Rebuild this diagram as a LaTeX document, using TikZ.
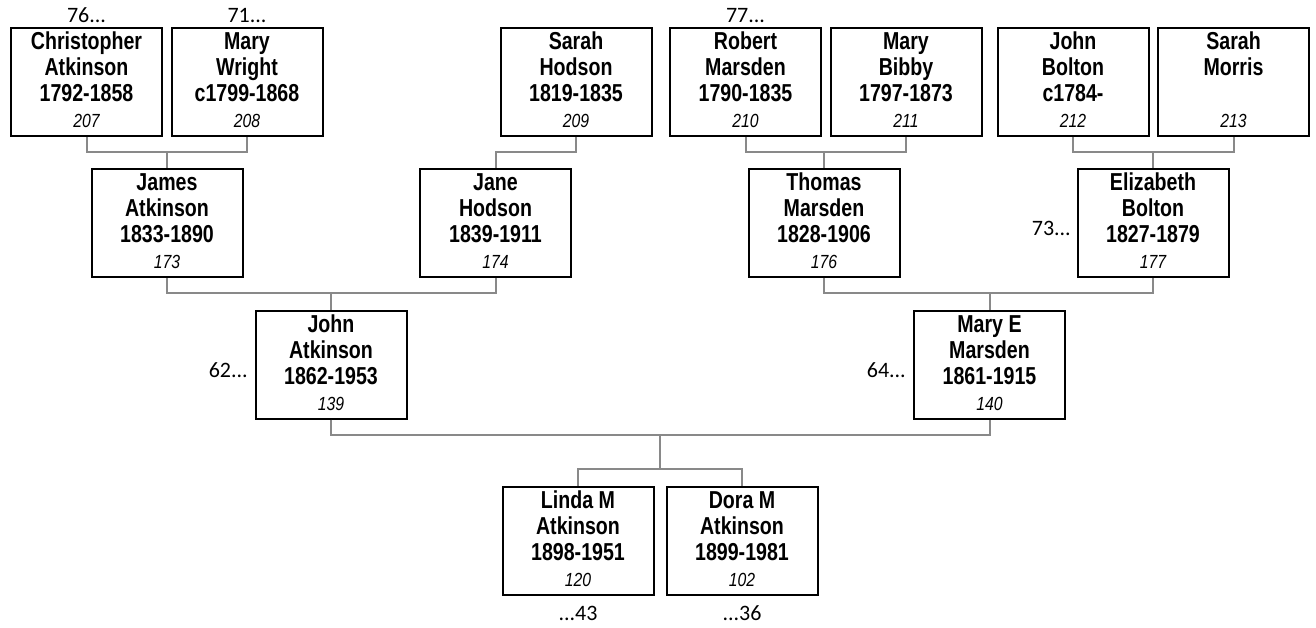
\documentclass[tikz,border=0pt]{standalone}
\usepackage{fontspec}
\newfontfamily\boxfont[FakeStretch=0.8]{Liberation Sans}
\newfontfamily\numfont[FakeStretch=0.83]{Liberation Sans}
\newfontfamily\labfont{Carlito}
\definecolor{connc}{RGB}{137,137,137}
\newcommand\pstrut{\rule[-7pt]{0pt}{26pt}}
\newcommand\nstrut{\rule[-6pt]{0pt}{24pt}}
\newcommand\pbox[4]{\pstrut\textbf{#1}\\\pstrut\textbf{#2}\\\pstrut\textbf{#3}\\\nstrut{\numfont\itshape\fontsize{19}{26}\selectfont #4}}
\tikzset{
  person/.style={draw=black, line width=2pt, minimum width=151pt, minimum height=108pt, inner sep=0pt, align=center, font=\boxfont\fontsize{24.5}{26}\selectfont},
  conn/.style={draw=connc, line width=2pt},
  lab/.style={inner sep=0pt, font=\labfont\fontsize{22}{26}\selectfont}
}
\begin{document}
\begin{tikzpicture}[x=1pt,y=-1pt]
\useasboundingbox (0,0) rectangle (1316,628);
% row 1
\node[person] (chris)  at (86.5,82)  {\pbox{Christopher}{Atkinson}{1792-1858}{207}};
\node[person] (maryw)  at (247,82)   {\pbox{Mary}{Wright}{c1799-1868}{208}};
\node[person] (sarahh) at (576,82)   {\pbox{Sarah}{Hodson}{1819-1835}{209}};
\node[person] (robert) at (745.5,82) {\pbox{Robert}{Marsden}{1790-1835}{210}};
\node[person] (maryb)  at (906,82)   {\pbox{Mary}{Bibby}{1797-1873}{211}};
\node[person] (johnb)  at (1073,82)  {\pbox{John}{Bolton}{c1784-}{212}};
\node[person] (sarahm) at (1233.5,82){\pbox{Sarah}{Morris}{}{213}};
% row 2
\node[person] (james)  at (167,223)   {\pbox{James}{Atkinson}{1833-1890}{173}};
\node[person] (jane)   at (495.5,223) {\pbox{Jane}{Hodson}{1839-1911}{174}};
\node[person] (thomas) at (824,223)   {\pbox{Thomas}{Marsden}{1828-1906}{176}};
\node[person] (eliz)   at (1153,223)  {\pbox{Elizabeth}{Bolton}{1827-1879}{177}};
% row 3
\node[person] (john)   at (331,364.5)   {\pbox{John}{Atkinson}{1862-1953}{139}};
\node[person] (marye)  at (989.5,364.5) {\pbox{Mary E}{Marsden}{1861-1915}{140}};
% row 4
\node[person] (linda)  at (578,540.5) {\pbox{Linda M}{Atkinson}{1898-1951}{120}};
\node[person] (dora)   at (742,540.5) {\pbox{Dora M}{Atkinson}{1899-1981}{102}};
% junctions
\coordinate (j1) at (167,152);
\coordinate (j2) at (495.5,152);
\coordinate (j3) at (824,152);
\coordinate (j4) at (1153,152);
\coordinate (j5) at (331,293);
\coordinate (j6) at (989.5,293);
\coordinate (j7) at (660,435);
\coordinate (j8) at (660,469);
% connectors
\draw[conn] (chris.south) |- (j1) -| (maryw.south);
\draw[conn] (j1) -- (james.north);
\draw[conn] (sarahh.south) |- (j2) -- (jane.north);
\draw[conn] (robert.south) |- (j3) -| (maryb.south);
\draw[conn] (j3) -- (thomas.north);
\draw[conn] (johnb.south) |- (j4) -| (sarahm.south);
\draw[conn] (j4) -- (eliz.north);
\draw[conn] (james.south) |- (j5) -| (jane.south);
\draw[conn] (j5) -- (john.north);
\draw[conn] (thomas.south) |- (j6) -| (eliz.south);
\draw[conn] (j6) -- (marye.north);
\draw[conn] (john.south) |- (j7) -| (marye.south);
\draw[conn] (j7) -- (j8);
\draw[conn] (linda.north) |- (j8) -| (dora.north);
% side labels
\node[lab, anchor=base] (l76) at (86.5,23) {76...};
\node[lab, anchor=base] (l71) at (247,23) {71...};
\node[lab, anchor=base] (l77) at (745.5,23) {77...};
\node[lab, anchor=base east] (l62) at (248,377) {62...};
\node[lab, anchor=base east] (l64) at (906,377) {64...};
\node[lab, anchor=base east] (l73) at (1071,235.5) {73...};
\node[lab, anchor=base] (l43) at (578,620) {...43};
\node[lab, anchor=base] (l36) at (742,620) {...36};
\end{tikzpicture}
\end{document}
